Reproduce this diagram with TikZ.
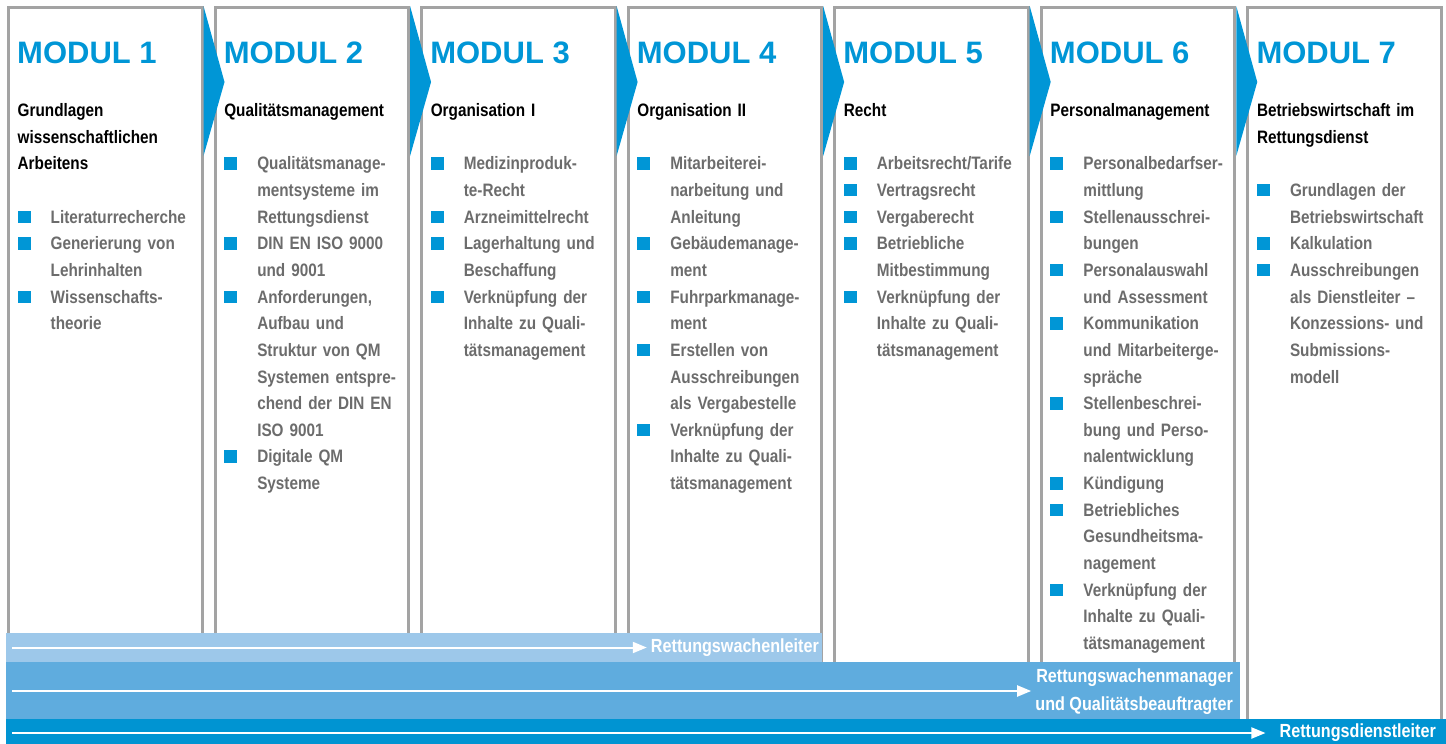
\documentclass[tikz,border=0pt]{standalone}
\usepackage{fontspec}
\setmainfont{Liberation Sans}
\newfontfamily\condfont[FakeStretch=0.85]{Liberation Sans}
\usetikzlibrary{arrows.meta}

\definecolor{modblue}{RGB}{0,150,214}
\definecolor{modgray}{RGB}{163,163,163}
\definecolor{txtgray}{RGB}{108,108,108}
\definecolor{barlight}{RGB}{157,200,234}
\definecolor{barmid}{RGB}{95,172,222}
\definecolor{bardark}{RGB}{0,148,210}

% heading of a module, followed by one empty line
\newcommand\modhead[1]{\noindent\textcolor{black}{#1}\par\vspace{26.65pt}}
% one bullet point with a blue square
\newcommand\modpt[1]{\par\hangindent=33pt\hangafter=1\noindent\makebox[33pt][l]{\textcolor{modblue}{\rule{13pt}{12.5pt}}}#1\par}

\begin{document}
\begin{tikzpicture}[x=1pt,y=-1pt,
  modbox/.style={draw=modgray,line width=3pt,inner sep=0pt,minimum width=193.5pt,minimum height=736pt,anchor=north west},
  modtitle/.style={anchor=base west,inner sep=0pt,text=modblue,font=\bfseries\fontsize{31}{31}\selectfont},
  modtext/.style={anchor=base west,inner sep=0pt,text width=190pt,align=left,text=txtgray,font=\condfont\bfseries\fontsize{18}{26.65}\selectfont},
  barlabel/.style={anchor=east,inner sep=4pt,text=white,align=right,font=\condfont\bfseries\fontsize{19}{28.7}\selectfont},
  barline/.style={white,line width=2pt,-{Triangle[length=14pt,width=11pt]}}]
\useasboundingbox (0,0) rectangle (1446,744);

% module boxes and titles
\foreach \i in {1,...,7} {
  \node[modbox] (box\i) at ({7+206.55*(\i-1)},6) {};
  \node[modtitle] (tit\i) at ([xshift=10pt,yshift=-57.5pt]box\i.north west) {MODUL \i};
}
\foreach \i in {1,...,6}
  \fill[modblue] (box\i.north east) -- ++(21,76) -- ++(-21,74) -- cycle;

\node[modtext] (txt1) at ([xshift=10.5pt,yshift=-110.5pt]box1.north west) {%
\modhead{Grundlagen\newline wissenschaftlichen\newline Arbeitens}%
\modpt{Literaturrecherche}%
\modpt{Generierung von\newline Lehrinhalten}%
\modpt{Wissenschafts-\newline theorie}};

\node[modtext] (txt2) at ([xshift=10.5pt,yshift=-110.5pt]box2.north west) {%
\modhead{Qualitätsmanagement}%
\modpt{Qualitätsmanage-\newline mentsysteme im\newline Rettungsdienst}%
\modpt{DIN EN ISO 9000\newline und 9001}%
\modpt{Anforderungen,\newline Aufbau und\newline Struktur von QM\newline Systemen entspre-\newline chend der DIN EN\newline ISO 9001}%
\modpt{Digitale QM\newline Systeme}};

\node[modtext] (txt3) at ([xshift=10.5pt,yshift=-110.5pt]box3.north west) {%
\modhead{Organisation I}%
\modpt{Medizinproduk-\newline te-Recht}%
\modpt{Arzneimittelrecht}%
\modpt{Lagerhaltung und\newline Beschaffung}%
\modpt{Verknüpfung der\newline Inhalte zu Quali-\newline tätsmanagement}};

\node[modtext] (txt4) at ([xshift=10.5pt,yshift=-110.5pt]box4.north west) {%
\modhead{Organisation II}%
\modpt{Mitarbeiterei-\newline narbeitung und\newline Anleitung}%
\modpt{Gebäudemanage-\newline ment}%
\modpt{Fuhrparkmanage-\newline ment}%
\modpt{Erstellen von\newline Ausschreibungen\newline als Vergabestelle}%
\modpt{Verknüpfung der\newline Inhalte zu Quali-\newline tätsmanagement}};

\node[modtext] (txt5) at ([xshift=10.5pt,yshift=-110.5pt]box5.north west) {%
\modhead{Recht}%
\modpt{Arbeitsrecht/Tarife}%
\modpt{Vertragsrecht}%
\modpt{Vergaberecht}%
\modpt{Betriebliche\newline Mitbestimmung}%
\modpt{Verknüpfung der\newline Inhalte zu Quali-\newline tätsmanagement}};

\node[modtext] (txt6) at ([xshift=10.5pt,yshift=-110.5pt]box6.north west) {%
\modhead{Personalmanagement}%
\modpt{Personalbedarfser-\newline mittlung}%
\modpt{Stellenausschrei-\newline bungen}%
\modpt{Personalauswahl\newline und Assessment}%
\modpt{Kommunikation\newline und Mitarbeiterge-\newline spräche}%
\modpt{Stellenbeschrei-\newline bung und Perso-\newline nalentwicklung}%
\modpt{Kündigung}%
\modpt{Betriebliches\newline Gesundheitsma-\newline nagement}%
\modpt{Verknüpfung der\newline Inhalte zu Quali-\newline tätsmanagement}};

\node[modtext] (txt7) at ([xshift=10.5pt,yshift=-110.5pt]box7.north west) {%
\modhead{Betriebswirtschaft im\newline Rettungsdienst}%
\modpt{Grundlagen der\newline Betriebswirtschaft}%
\modpt{Kalkulation}%
\modpt{Ausschreibungen\newline als Dienstleiter –\newline Konzessions- und\newline Submissions-\newline modell}};

% career levels
\fill[barlight] (6,633) rectangle (822,662);
\fill[barmid] (6,662) rectangle (1240,719);
\fill[bardark] (6,719) rectangle (1446,744);

\node[barlabel] (lvl1) at (823,647.5) {Rettungswachenleiter};
\node[barlabel] (lvl2) at (1237,691.5) {Rettungswachenmanager\\und Qualitätsbeauftragter};
\node[barlabel] (lvl3) at (1440,733) {Rettungsdienstleiter};
\coordinate (go1) at (12,647.5);
\coordinate (go2) at (12,691);
\coordinate (go3) at (12,733);
\draw[barline] (go1) -- (lvl1.west |- go1);
\draw[barline] (go2) -- (lvl2.west |- go2);
\draw[barline] (go3) -- ([xshift=-10pt]lvl3.west |- go3);
\end{tikzpicture}
\end{document}
